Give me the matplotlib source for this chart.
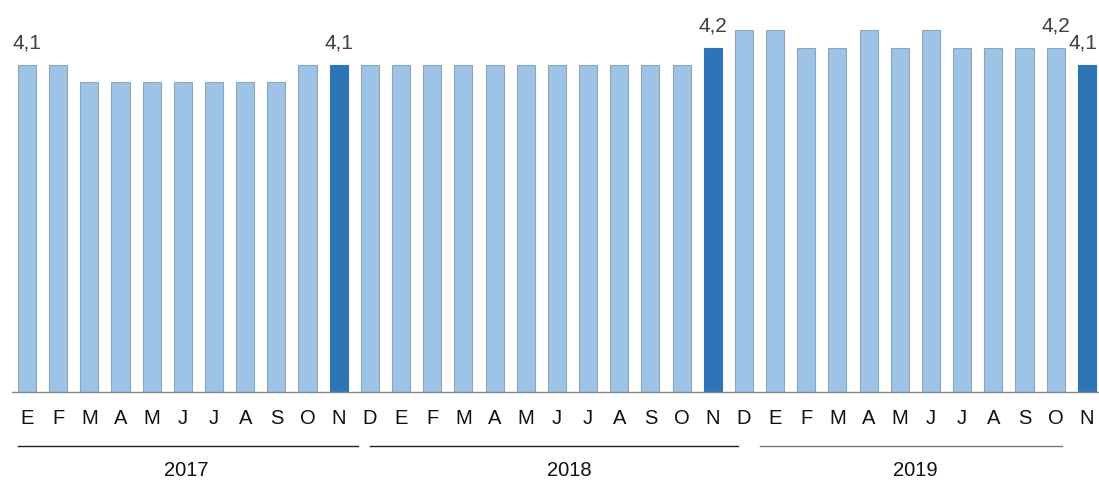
import matplotlib.pyplot as plt
import matplotlib.transforms as mtransforms

plt.rcParams['font.family'] = ['Liberation Sans', 'DejaVu Sans']

# datos mensuales, ene 2017 - nov 2019
meses = ["E", "F", "M", "A", "M", "J", "J", "A", "S", "O", "N", "D"] * 2 + \
        ["E", "F", "M", "A", "M", "J", "J", "A", "S", "O", "N"]
valores = [4.1, 4.1, 4.0, 4.0, 4.0, 4.0, 4.0, 4.0, 4.0, 4.1, 4.1, 4.1,
           4.1, 4.1, 4.1, 4.1, 4.1, 4.1, 4.1, 4.1, 4.1, 4.1, 4.2, 4.3,
           4.3, 4.2, 4.2, 4.3, 4.2, 4.3, 4.2, 4.2, 4.2, 4.2, 4.1]
destacados = [10, 22, 34]          # noviembres
etiquetados = [0, 10, 22, 33, 34]  # barras con valor
anios = ["2017", "2018", "2019"]

claro = "#9dc3e6"
oscuro = "#2e75b6"

fig = plt.figure(figsize=(10.99, 4.82), dpi=100)
ax = fig.add_axes([12 / 1099, 90 / 482, 1087 / 1099, 392 / 482])

x = list(range(len(valores)))
colores = [oscuro if i in destacados else claro for i in x]
bordes = [oscuro if i in destacados else "#8ea4bb" for i in x]
ax.bar(x, valores, width=0.58, color=colores, edgecolor=bordes, linewidth=0.8)

for i in etiquetados:
    dx = -3 if i == x[-1] else 0   # la ultima queda pegada al borde
    ax.annotate(f"{valores[i]:.1f}".replace(".", ","), (x[i], valores[i]),
                xytext=(dx, 9), textcoords="offset points",
                ha="center", va="bottom", fontsize=15, color="#404040")

ax.set_xlim(-0.48, 34.39)
ax.set_ylim(2.21, 4.476)
ax.set_xticks(x)
ax.set_xticklabels(meses, fontsize=14.5, color="#111111")
ax.tick_params(axis="x", length=0, pad=12.5)
ax.set_yticks([])
for s in ["top", "left", "right"]:
    ax.spines[s].set_visible(False)
ax.spines["bottom"].set_color("#888888")
ax.spines["bottom"].set_linewidth(1.0)

# lineas y etiquetas de año
trans = mtransforms.blended_transform_factory(ax.transData, ax.transAxes)
tramos = [(-0.3, 10.62), (11.0, 22.8), (23.5, 33.2)]
centros = [5.1, 17.4, 28.5]
colores_linea = ["#222222", "#222222", "#777777"]
for anio, (a, b), c, col in zip(anios, tramos, centros, colores_linea):
    ax.plot([a, b], [-0.138, -0.138], color=col, lw=1.0, transform=trans, clip_on=False)
    ax.text(c, -0.199, anio, transform=trans, ha="center", va="center",
            fontsize=14.5, color="#111111")

fig.savefig("out.png", dpi=100)
